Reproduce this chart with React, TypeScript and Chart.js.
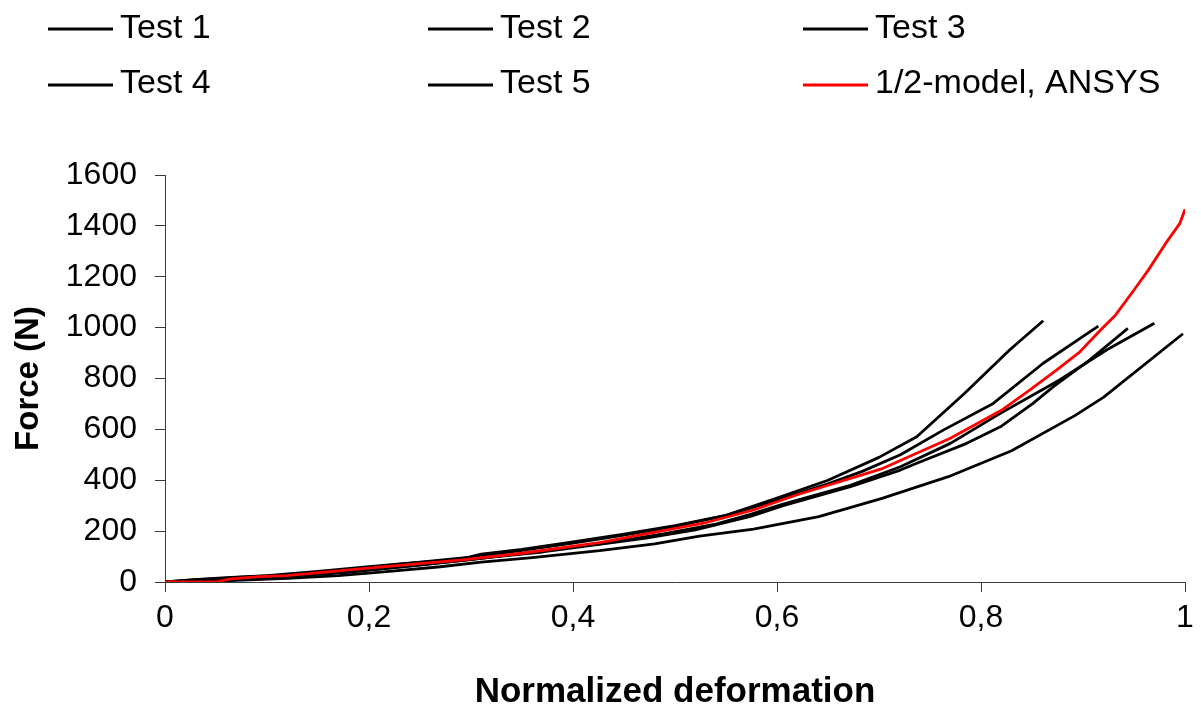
import { useEffect, useRef } from 'react';
import { Chart, registerables } from 'chart.js';

Chart.register(...registerables);

// Series names and colours (five tests + the FE model)
const seriesLabels = ['Test 1', 'Test 2', 'Test 3', 'Test 4', 'Test 5', '1/2-model, ANSYS'];
const seriesColors = ['#000000', '#000000', '#000000', '#000000', '#000000', '#ff0000'];

// Normalized deformation / force (N) for each measured test
const test1X = [0, 0.025, 0.06, 0.1, 0.15, 0.2, 0.25, 0.3, 0.35, 0.4, 0.45, 0.5, 0.55, 0.6, 0.65, 0.7, 0.737, 0.784, 0.828, 0.861];
const test1Y = [0, 8, 17, 25, 42, 60, 78, 98, 124, 153, 184, 219, 262, 330, 400, 490, 571, 742, 912, 1027];

const test2X = [0, 0.04, 0.07, 0.12, 0.18, 0.23, 0.29, 0.31, 0.35, 0.4, 0.45, 0.5, 0.55, 0.6, 0.65, 0.683, 0.721, 0.763, 0.812, 0.861, 0.915];
const test2Y = [0, 6, 18, 28, 48, 70, 90, 110, 128, 158, 188, 222, 262, 322, 386, 434, 500, 597, 702, 860, 1006];

const test3X = [0, 0.03, 0.06, 0.11, 0.17, 0.22, 0.28, 0.32, 0.37, 0.42, 0.47, 0.52, 0.574, 0.606, 0.672, 0.721, 0.737, 0.786, 0.819, 0.851, 0.871, 0.904, 0.944];
const test3Y = [0, 4, 10, 20, 35, 55, 80, 98, 118, 145, 172, 205, 258, 300, 375, 440, 467, 545, 610, 702, 768, 865, 997];

const test4X = [0, 0.035, 0.07, 0.12, 0.18, 0.24, 0.3, 0.34, 0.39, 0.44, 0.49, 0.54, 0.574, 0.606, 0.672, 0.721, 0.77, 0.819, 0.877, 0.923, 0.97];
const test4Y = [0, 10, 15, 26, 40, 62, 88, 108, 132, 158, 190, 228, 266, 306, 380, 453, 545, 663, 794, 912, 1017];

const test5X = [0, 0.03, 0.07, 0.12, 0.17, 0.22, 0.27, 0.31, 0.36, 0.426, 0.48, 0.524, 0.577, 0.641, 0.703, 0.768, 0.83, 0.892, 0.92, 0.998];
const test5Y = [0, 2, 6, 14, 25, 42, 60, 78, 96, 123, 150, 180, 208, 257, 329, 414, 516, 654, 726, 976];

// ANSYS half-model prediction
const ansysX = [0, 0.05, 0.064, 0.093, 0.119, 0.191, 0.289, 0.35, 0.426, 0.528, 0.577, 0.619, 0.704, 0.721, 0.77, 0.82, 0.848, 0.874, 0.897, 0.917, 0.932, 0.95, 0.964, 0.981, 0.995, 1.0];
const ansysY = [0, 0, 12, 21, 25, 52, 86, 113, 155, 231, 283, 342, 447, 478, 565, 675, 755, 833, 905, 990, 1050, 1148, 1226, 1331, 1410, 1465];

const xTickLabels = ['0', '0,2', '0,4', '0,6', '0,8', '1'];
const yTickLabels = ['0', '200', '400', '600', '800', '1000', '1200', '1400', '1600'];

const seriesX = [test1X, test2X, test3X, test4X, test5X, ansysX];
const seriesY = [test1Y, test2Y, test3Y, test4Y, test5Y, ansysY];

const FONT = "Arial, 'Liberation Sans', sans-serif";

// Three-column, two-row legend above the plot
const gridLegend = {
  id: 'gridLegend',
  afterDraw(chart: any) {
    const ctx = chart.ctx as CanvasRenderingContext2D;
    const colStart = [48, 428, 803];
    const rowLine = [29, 85];
    const rowBase = [38, 93];
    ctx.save();
    ctx.font = `34px ${FONT}`;
    ctx.textBaseline = 'alphabetic';
    ctx.textAlign = 'left';
    seriesLabels.forEach((label, i) => {
      const c = i % 3;
      const r = Math.floor(i / 3);
      const x0 = colStart[c];
      ctx.strokeStyle = seriesColors[i];
      ctx.lineWidth = 2.8;
      ctx.beginPath();
      ctx.moveTo(x0, rowLine[r]);
      ctx.lineTo(x0 + 65, rowLine[r]);
      ctx.stroke();
      ctx.fillStyle = '#000000';
      ctx.fillText(label, x0 + 72, rowBase[r]);
    });
    ctx.restore();
  },
};

export default function App() {
  const canvasRef = useRef<HTMLCanvasElement | null>(null);

  useEffect(() => {
    const canvas = canvasRef.current;
    if (!canvas) return;

    const datasets = seriesLabels.map((label, i) => ({
      label,
      data: seriesX[i].map((x, k) => ({ x, y: seriesY[i][k] })),
      borderColor: seriesColors[i],
      backgroundColor: seriesColors[i],
      borderWidth: 2.8,
      pointRadius: 0,
      tension: 0,
      fill: false,
      borderJoinStyle: 'round' as const,
      order: i === 5 ? 0 : 1,
    }));

    const axisColor = '#3a3a3a';

    const chart = new Chart(canvas, {
      type: 'line',
      data: { datasets },
      plugins: [gridLegend],
      options: {
        animation: false,
        responsive: false,
        layout: { padding: { left: 0, right: 16, top: 175, bottom: 0 } },
        plugins: {
          legend: { display: false },
          tooltip: { enabled: false },
        },
        scales: {
          x: {
            type: 'linear',
            min: 0,
            max: 1,
            ticks: {
              stepSize: 0.2,
              color: '#000000',
              padding: 7,
              font: { family: FONT, size: 32 },
              maxRotation: 0,
              callback: (_v: any, idx: number) => xTickLabels[idx],
            },
            grid: { drawOnChartArea: false, drawTicks: true, tickLength: 10, color: axisColor, lineWidth: 1 },
            border: { display: true, color: axisColor, width: 1 },
            title: {
              display: true,
              text: 'Normalized deformation',
              color: '#000000',
              font: { family: FONT, size: 35, weight: 'bold', lineHeight: 0.8 },
              padding: { top: 0, bottom: 0 },
            },
            afterFit: (scale: any) => {
              scale.height = 124;
            },
          },
          y: {
            type: 'linear',
            min: 0,
            max: 1600,
            ticks: {
              stepSize: 200,
              color: '#000000',
              padding: 18,
              font: { family: FONT, size: 32 },
              callback: (_v: any, idx: number) => yTickLabels[idx],
            },
            grid: { drawOnChartArea: false, drawTicks: true, tickLength: 10, color: axisColor, lineWidth: 1 },
            border: { display: true, color: axisColor, width: 1 },
            title: {
              display: true,
              text: 'Force (N)',
              color: '#000000',
              font: { family: FONT, size: 33, weight: 'bold', lineHeight: 1.2 },
              padding: { top: 9, bottom: 0 },
            },
            afterFit: (scale: any) => {
              scale.width = 165;
            },
          },
        },
      },
    } as any);

    return () => {
      chart.destroy();
    };
  }, []);

  return (
    <div style={{ position: 'fixed', left: 0, top: 0, width: 1201, height: 706, background: '#ffffff' }}>
      <canvas ref={canvasRef} width={1201} height={706} style={{ display: 'block' }} />
    </div>
  );
}
